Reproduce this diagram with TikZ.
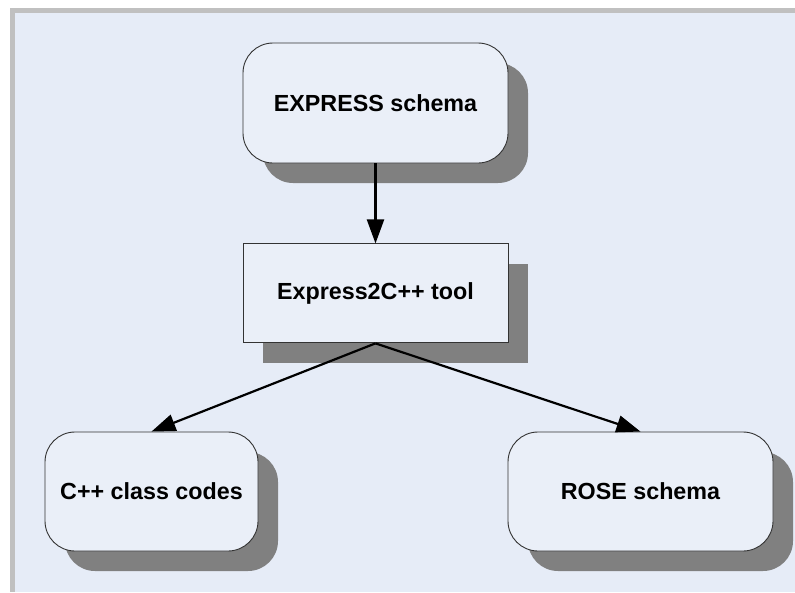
\documentclass[tikz,border=0pt]{standalone}
\usepackage{fontspec}
\setmainfont{Liberation Sans}
\usetikzlibrary{
arrows.meta,
positioning,
shadows
}
\definecolor{frame}{HTML}{C0C0C0}
\definecolor{canvas}{HTML}{E6ECF7}
\definecolor{boxfill}{HTML}{EAEFF8}
\definecolor{shade}{HTML}{808080}

\begin{document}
\begin{tikzpicture}[
x=1pt, y=-1pt,
node distance=80pt,
box/.style={
rectangle,
draw=black!80,
line width=0.9pt,
fill=boxfill,
minimum width=265pt,
minimum height=120pt,
align=center,
font=\fontsize{23.3}{27}\selectfont\bfseries,
drop shadow={shadow xshift=20pt, shadow yshift=-20pt, fill=shade, opacity=1}
},
roundbox/.style={box, rounded corners=30pt},
flow/.style={-{Triangle[length=24pt,width=17pt]}, line width=2.2pt}
]

% background
\useasboundingbox (0,0) rectangle (795,592);
\fill[frame] (10,8) rectangle (795,592);
\fill[canvas] (15,13) rectangle (795,592);

\node[roundbox] (express) at (375.5,103) {EXPRESS schema};
\node[box, below=of express, minimum height=99pt] (tool) {Express2C++ tool};
\node[roundbox, minimum width=213pt, minimum height=119pt] (cpp) at (151.5,491.5) {C++ class codes};
\node[roundbox, minimum height=119pt] (rose) at (640.5,491.5) {ROSE schema};

\draw[flow] (express) -- (tool);
\draw[flow] (tool.south) -- (cpp.north);
\draw[flow] (tool.south) -- (rose.north);

\end{tikzpicture}
\end{document}
